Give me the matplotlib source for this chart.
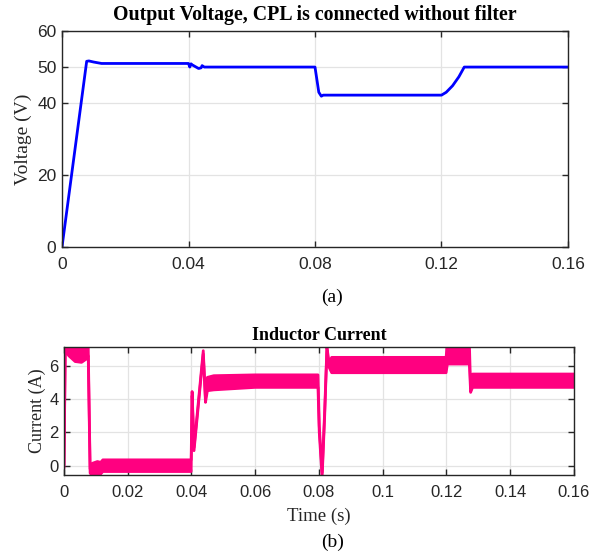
import matplotlib
matplotlib.use('Agg')
import matplotlib.pyplot as plt

# output voltage breakpoints (s, V)
t_v = [0.0, 0.0078, 0.0085, 0.0100, 0.0125, 0.0400, 0.0404, 0.0408, 0.0412,
       0.0420, 0.0432, 0.0440, 0.0443, 0.0450, 0.0800, 0.0812, 0.0820, 0.0826,
       0.1200, 0.1215, 0.1235, 0.1255, 0.1272, 0.1600]
v_out = [0.0, 51.6, 51.7, 51.4, 51.0, 51.0, 50.0, 50.9, 50.6,
         50.2, 49.6, 49.8, 50.4, 50.0, 50.0, 43.0, 41.9, 42.2,
         42.2, 43.0, 44.8, 47.3, 50.0, 50.0]

# inductor current ripple envelope (s, lower A, upper A)
t_i = [0.0000, 0.0004, 0.0015, 0.0035, 0.0055, 0.0070, 0.0076, 0.0082,
       0.0090, 0.0105, 0.0115, 0.0122, 0.0399, 0.0402, 0.0408, 0.0437,
       0.0444, 0.0450, 0.0470, 0.0600, 0.0797, 0.0801, 0.0810, 0.0818,
       0.0825, 0.0832, 0.0840, 0.1199, 0.1203, 0.1272, 0.1276, 0.1282,
       0.1600]
i_lo = [-0.1, 6.9, 6.6, 6.25, 6.2, 6.4, 6.6, -0.45,
        -0.6, -0.6, -0.5, -0.35, -0.35, 4.2, 0.9, 6.7,
        3.8, 4.5, 4.55, 4.7, 4.7, 2.0, -0.7, 3.0,
        6.9, 5.9, 5.58, 5.58, 6.1, 6.1, 4.4, 4.7,
        4.7]
i_hi = [0.1, 7.4, 7.4, 7.4, 7.4, 7.3, 7.2, -0.2,
        0.15, 0.25, 0.2, 0.35, 0.35, 4.45, 1.1, 6.9,
        4.0, 5.3, 5.4, 5.45, 5.45, 2.4, -0.4, 3.3,
        7.1, 6.2, 6.5, 6.5, 7.4, 7.4, 4.6, 5.5,
        5.5]

v_ticks = [0, 20, 40, 50, 60]
t_ticks_a = [0, 0.04, 0.08, 0.12, 0.16]
t_labels_a = ['0', '0.04', '0.08', '0.12', '0.16']
t_ticks_b = [0, 0.02, 0.04, 0.06, 0.08, 0.10, 0.12, 0.14, 0.16]
t_labels_b = ['0', '0.02', '0.04', '0.06', '0.08', '0.1', '0.12', '0.14', '0.16']
i_ticks = [0, 2, 4, 6]

serif = 'Liberation Serif'
sans = 'Liberation Sans'
axcol = '#262626'
pink = '#FF0080'

fig = plt.figure(figsize=(6.02, 5.55), dpi=100)

def style(ax, fs):
    ax.grid(True, color='#E3E3E3', linewidth=0.9)
    ax.set_axisbelow(True)
    ax.tick_params(direction='in', top=True, right=True, length=4,
                   width=1.0, colors=axcol, labelsize=fs)
    ax.tick_params(axis='x', pad=7)
    ax.tick_params(axis='y', pad=4)
    for lbl in ax.get_xticklabels() + ax.get_yticklabels():
        lbl.set_fontfamily(sans)
    for s in ax.spines.values():
        s.set_color(axcol)
        s.set_linewidth(1.0)

# (a) output voltage
ax1 = fig.add_axes([0.103, 0.555, 0.8405, 0.389])
ax1.plot(t_v, v_out, color='#0000FF', linewidth=2.0)
ax1.set_xlim(0, 0.16)
ax1.set_ylim(0, 60)
ax1.set_xticks(t_ticks_a)
ax1.set_xticklabels(t_labels_a)
ax1.set_yticks(v_ticks)
style(ax1, 12.5)
ax1.set_ylabel('Voltage (V)', fontfamily=serif, fontsize=14, color=axcol, labelpad=4)
ax1.set_title('Output Voltage, CPL is connected without filter',
              fontfamily=serif, fontweight='bold', fontsize=14.3, pad=8)
fig.text(0.552, 0.465, '(a)', fontfamily=serif, fontsize=14, ha='center', va='center')

# (b) inductor current
ax2 = fig.add_axes([0.1063, 0.1441, 0.847, 0.2312])
ax2.fill_between(t_i, i_lo, i_hi, color=pink, linewidth=0)
ax2.plot(t_i, i_lo, color=pink, linewidth=2.0)
ax2.plot(t_i, i_hi, color=pink, linewidth=2.0)
ax2.set_xlim(0, 0.16)
ax2.set_ylim(-0.56, 7.14)
ax2.set_xticks(t_ticks_b)
ax2.set_xticklabels(t_labels_b)
ax2.set_yticks(i_ticks)
style(ax2, 12)
ax2.set_ylabel('Current (A)', fontfamily=serif, fontsize=13, color=axcol, labelpad=2)
ax2.set_xlabel('Time (s)', fontfamily=serif, fontsize=13.5, color=axcol, labelpad=6)
ax2.set_title('Inductor Current', fontfamily=serif, fontweight='bold', fontsize=13, pad=5)
fig.text(0.552, 0.023, '(b)', fontfamily=serif, fontsize=14, ha='center', va='center')

fig.savefig('out.png', dpi=100)
